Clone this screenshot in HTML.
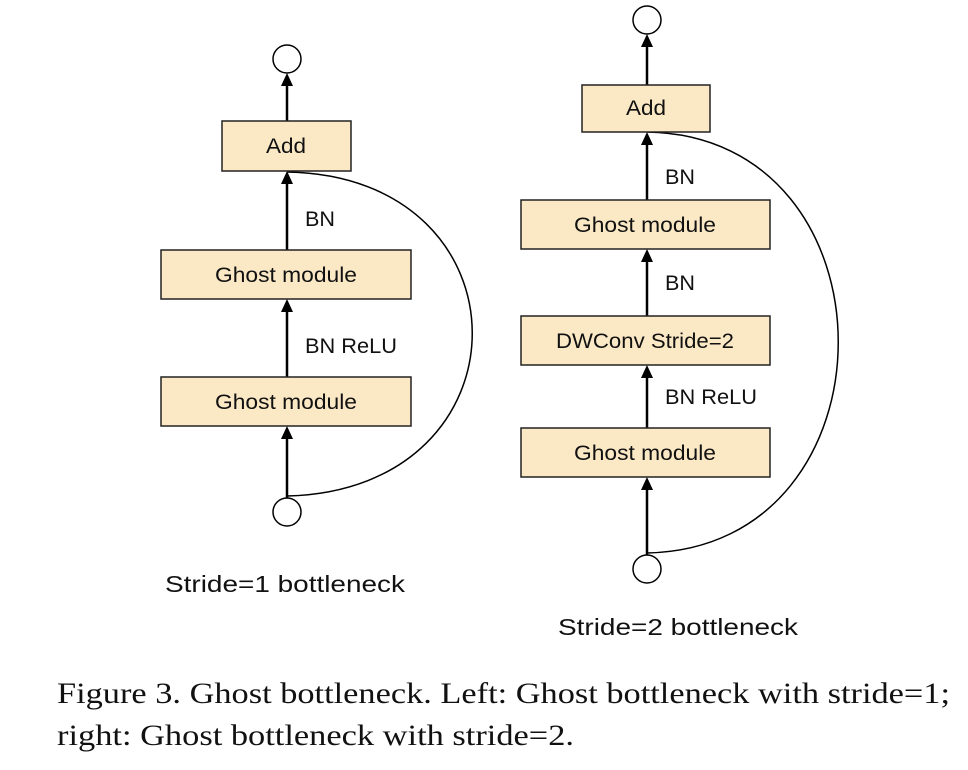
<!DOCTYPE html>
<html><head><meta charset="utf-8"><style>
html,body{margin:0;padding:0;background:#fff;width:968px;height:770px;overflow:hidden}
svg{display:block}
.box{fill:#fbe9c6;stroke:#222;stroke-width:1.5}
.bt{font-family:"Liberation Sans",sans-serif;font-size:21px;fill:#111;text-anchor:middle}
.lb{font-family:"Liberation Sans",sans-serif;font-size:21px;fill:#111}
.ln{stroke:#000;stroke-width:2.5}
.ah{fill:#000}
.cap{font-family:"Liberation Serif",serif;font-size:30px;fill:#111}
</style></head><body>
<svg width="968" height="770" viewBox="0 0 968 770">

<g>
<path d="M287,496 C534,490 534,176 287,172" fill="none" stroke="#000" stroke-width="1.5"/>
<circle cx="287" cy="59" r="14" fill="#fff" stroke="#000" stroke-width="1.5"/>
<circle cx="287" cy="512" r="14" fill="#fff" stroke="#000" stroke-width="1.5"/>
<line class="ln" x1="287" y1="121" x2="287" y2="84"/>
<polygon class="ah" points="287,73 281,86 293,86"/>
<line class="ln" x1="287" y1="250" x2="287" y2="182"/>
<polygon class="ah" points="287,171 281,184 293,184"/>
<line class="ln" x1="287" y1="377" x2="287" y2="310"/>
<polygon class="ah" points="287,299 281,312 293,312"/>
<line class="ln" x1="287" y1="498" x2="287" y2="437"/>
<polygon class="ah" points="287,426 281,439 293,439"/>
<rect class="box" x="222" y="121" width="129" height="50"/>
<text class="bt" x="286" y="153" textLength="40" lengthAdjust="spacingAndGlyphs">Add</text>
<rect class="box" x="161" y="250" width="250" height="49"/>
<text class="bt" x="286" y="282" textLength="142" lengthAdjust="spacingAndGlyphs">Ghost module</text>
<rect class="box" x="161" y="377" width="250" height="49"/>
<text class="bt" x="286" y="409" textLength="142" lengthAdjust="spacingAndGlyphs">Ghost module</text>
<text class="lb" x="305" y="226" textLength="30" lengthAdjust="spacingAndGlyphs">BN</text>
<text class="lb" x="305" y="353" textLength="92" lengthAdjust="spacingAndGlyphs">BN ReLU</text>
<text class="lb" x="165" y="592" textLength="240" lengthAdjust="spacingAndGlyphs" style="font-size:23px">Stride=1 bottleneck</text>
</g>

<g>
<path d="M647,553 C902,548 902,136 647,132" fill="none" stroke="#000" stroke-width="1.5"/>
<circle cx="647" cy="20" r="14" fill="#fff" stroke="#000" stroke-width="1.5"/>
<circle cx="647" cy="569" r="14" fill="#fff" stroke="#000" stroke-width="1.5"/>
<line class="ln" x1="647" y1="85" x2="647" y2="45"/>
<polygon class="ah" points="647,34 641,47 653,47"/>
<line class="ln" x1="647" y1="200" x2="647" y2="143"/>
<polygon class="ah" points="647,132 641,145 653,145"/>
<line class="ln" x1="647" y1="316" x2="647" y2="260"/>
<polygon class="ah" points="647,249 641,262 653,262"/>
<line class="ln" x1="647" y1="428" x2="647" y2="376"/>
<polygon class="ah" points="647,365 641,378 653,378"/>
<line class="ln" x1="647" y1="555" x2="647" y2="488"/>
<polygon class="ah" points="647,477 641,490 653,490"/>
<rect class="box" x="582" y="85" width="128" height="47"/>
<text class="bt" x="646" y="115" textLength="40" lengthAdjust="spacingAndGlyphs">Add</text>
<rect class="box" x="521" y="200" width="249" height="49"/>
<text class="bt" x="645" y="232" textLength="142" lengthAdjust="spacingAndGlyphs">Ghost module</text>
<rect class="box" x="521" y="316" width="249" height="49"/>
<text class="bt" x="645" y="348" textLength="178" lengthAdjust="spacingAndGlyphs">DWConv Stride=2</text>
<rect class="box" x="521" y="428" width="249" height="49"/>
<text class="bt" x="645" y="460" textLength="142" lengthAdjust="spacingAndGlyphs">Ghost module</text>
<text class="lb" x="665" y="184" textLength="30" lengthAdjust="spacingAndGlyphs">BN</text>
<text class="lb" x="665" y="290" textLength="30" lengthAdjust="spacingAndGlyphs">BN</text>
<text class="lb" x="665" y="404" textLength="92" lengthAdjust="spacingAndGlyphs">BN ReLU</text>
<text class="lb" x="558" y="635" textLength="240" lengthAdjust="spacingAndGlyphs" style="font-size:23px">Stride=2 bottleneck</text>
</g>

<text class="cap" x="57" y="703" textLength="893" lengthAdjust="spacingAndGlyphs">Figure 3. Ghost bottleneck. Left: Ghost bottleneck with stride=1;</text>
<text class="cap" x="57" y="745" textLength="517" lengthAdjust="spacingAndGlyphs">right: Ghost bottleneck with stride=2.</text>
</svg>
</body></html>
